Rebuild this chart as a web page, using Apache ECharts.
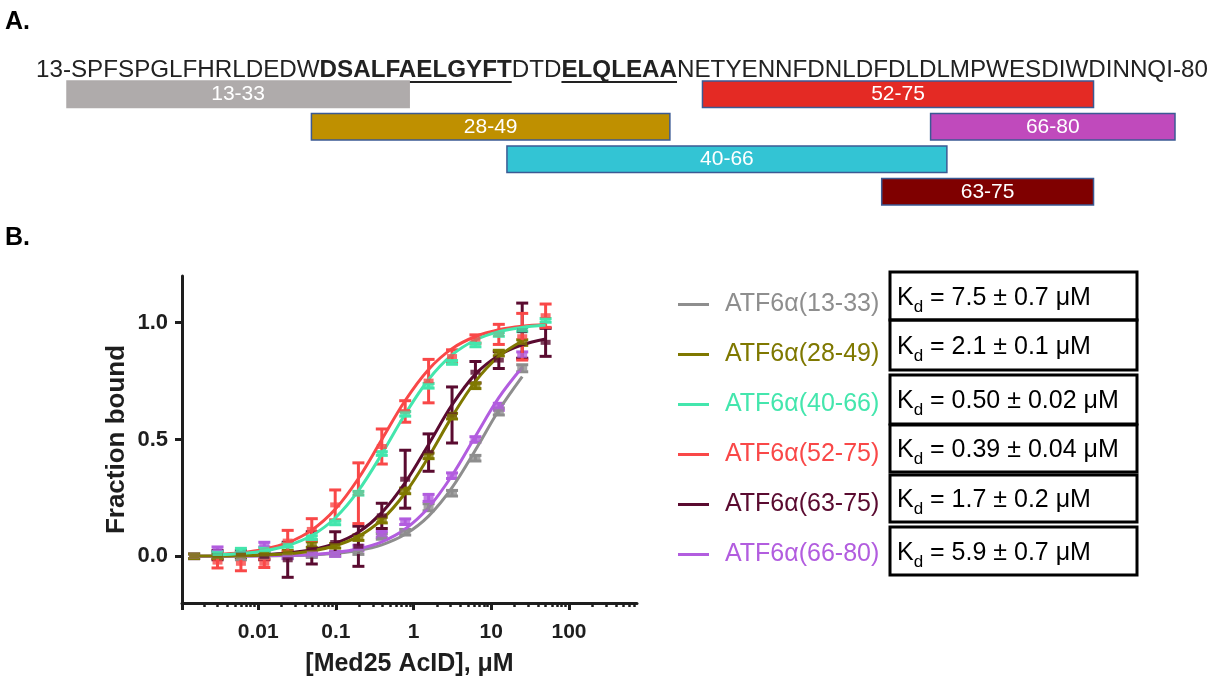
<!DOCTYPE html>
<html><head><meta charset="utf-8">
<script src="https://cdn.jsdelivr.net/npm/echarts@6/dist/echarts.min.js"></script>
<style>html,body{margin:0;padding:0;background:#fff}#c{width:1211px;height:680px}</style>
</head><body><div id="c"></div>
<script>
// ---------------- Panel A data ----------------
const seqPlain1 = '13-SPFSPGLFHRLDEDW';
const seqBold1 = 'DSALFAELGYFT';
const seqPlain2 = 'DTD';
const seqBold2 = 'ELQLEAA';
const seqPlain3 = 'NETYENNFDNLDFDLDLMPWESDIWDINNQI-80';
const fragLabels = ['13-33', '28-49', '40-66', '52-75', '63-75', '66-80'];
const fragStart = [13, 28, 40, 52, 63, 66];
const fragEnd = [33, 49, 66, 75, 75, 80];
const fragRow = [0, 1, 2, 0, 3, 1];

// ---------------- Panel B data ----------------
const seriesNames = ['ATF6α(13-33)', 'ATF6α(28-49)', 'ATF6α(40-66)', 'ATF6α(52-75)', 'ATF6α(63-75)', 'ATF6α(66-80)'];
const kdLabels = ['7.5 ± 0.7 μM', '2.1 ± 0.1 μM', '0.50 ± 0.02 μM', '0.39 ± 0.04 μM', '1.7 ± 0.2 μM', '5.9 ± 0.7 μM'];
const xTickLabels = [0.01, 0.1, 1, 10, 100];
const yTickLabels = [0.0, 0.5, 1.0];

// concentrations (µM)
const concA = [0.0015, 0.003, 0.006, 0.012, 0.024, 0.049, 0.098, 0.195, 0.39, 0.78, 1.56, 3.125, 6.25, 12.5, 25];
const concB = [0.003, 0.006, 0.012, 0.024, 0.049, 0.098, 0.195, 0.39, 0.78, 1.56, 3.125, 6.25, 12.5, 25, 50];

// measured points (mean, sd)
const mean13_33 = [0.0, 0.0, -0.005, -0.003, 0.0, 0.005, 0.01, 0.02, 0.085, 0.103, 0.21, 0.27, 0.42, 0.62, 0.805];
const err13_33  = [0.01, 0.01, 0.01, 0.01, 0.01, 0.01, 0.01, 0.012, 0.012, 0.012, 0.015, 0.012, 0.012, 0.015, 0.015];
const mean28_49 = [0.0, 0.0, 0.005, 0.01, 0.015, 0.05, 0.045, 0.08, 0.155, 0.28, 0.43, 0.6, 0.73, 0.87, 0.915];
const err28_49  = [0.01, 0.01, 0.01, 0.01, 0.01, 0.012, 0.01, 0.012, 0.012, 0.012, 0.012, 0.012, 0.012, 0.012, 0.012];
const mean40_66 = [0.012, 0.026, 0.029, 0.047, 0.08, 0.143, 0.27, 0.44, 0.61, 0.73, 0.83, 0.905, 0.95, 0.97, 1.01];
const err40_66  = [0.008, 0.008, 0.008, 0.008, 0.008, 0.008, 0.008, 0.008, 0.01, 0.01, 0.008, 0.008, 0.008, 0.008, 0.008];
const mean52_75 = [-0.025, -0.03, -0.03, 0.065, 0.115, 0.22, 0.27, 0.47, 0.62, 0.75, 0.855, 0.93, 0.95, 0.94, 1.03];
const err52_75  = [0.025, 0.032, 0.018, 0.046, 0.046, 0.064, 0.13, 0.075, 0.046, 0.093, 0.029, 0.018, 0.043, 0.1, 0.05];
const mean63_75 = [0.005, 0.01, 0.0, -0.015, 0.036, 0.059, 0.043, 0.173, 0.33, 0.444, 0.605, 0.788, 0.84, 0.966, 0.916];
const err63_75  = [0.02, 0.015, 0.015, 0.075, 0.069, 0.046, 0.086, 0.054, 0.124, 0.08, 0.12, 0.046, 0.036, 0.118, 0.06];
const mean66_80 = [0.0, 0.03, 0.01, 0.05, 0.0, 0.01, 0.01, 0.035, 0.094, 0.148, 0.25, 0.345, 0.5, 0.64, 0.86];
const err66_80  = [0.01, 0.01, 0.01, 0.01, 0.01, 0.01, 0.01, 0.012, 0.012, 0.012, 0.015, 0.012, 0.012, 0.015, 0.015];

// fitted curves
const fit13_33 = [0.0, 0.0, 0.001, 0.002, 0.003, 0.006, 0.013, 0.025, 0.049, 0.094, 0.172, 0.294, 0.455, 0.625, 0.769];
const fit28_49 = [0.001, 0.001, 0.003, 0.006, 0.011, 0.023, 0.045, 0.085, 0.157, 0.271, 0.426, 0.598, 0.749, 0.856, 0.922];
const fit40_66 = [0.006, 0.012, 0.023, 0.046, 0.089, 0.164, 0.281, 0.438, 0.609, 0.757, 0.862, 0.926, 0.962, 0.980, 0.990];
const fit52_75 = [0.008, 0.015, 0.030, 0.058, 0.112, 0.201, 0.333, 0.5, 0.667, 0.8, 0.889, 0.941, 0.970, 0.985, 0.992];
const fit63_75 = [0.002, 0.004, 0.007, 0.014, 0.028, 0.055, 0.103, 0.187, 0.315, 0.479, 0.648, 0.78, 0.86, 0.905, 0.93];
const fit66_80 = [0.0, 0.001, 0.001, 0.002, 0.004, 0.008, 0.016, 0.032, 0.062, 0.117, 0.209, 0.346, 0.514, 0.679, 0.809];

// ---------------- styles / layout ----------------
const FONT = '"Liberation Sans", Arial, Helvetica, sans-serif';
const NARROW = '"Liberation Sans Narrow", "Arial Narrow", "Liberation Sans", Arial, sans-serif';
const fragColors = ['#afabab', '#bf9000', '#33c4d4', '#e42a24', '#7f0000', '#c04abc'];
const seriesColors = ['#8e8e8e', '#7f7800', '#44e6ad', '#f94848', '#5a0b30', '#b25ddf'];
const seriesSets = [
  {conc: concA, mean: mean13_33, err: err13_33, fit: fit13_33},
  {conc: concA, mean: mean28_49, err: err28_49, fit: fit28_49},
  {conc: concB, mean: mean40_66, err: err40_66, fit: fit40_66},
  {conc: concB, mean: mean52_75, err: err52_75, fit: fit52_75},
  {conc: concB, mean: mean63_75, err: err63_75, fit: fit63_75},
  {conc: concA, mean: mean66_80, err: err66_80, fit: fit66_80}
];
const drawOrder = [0, 5, 4, 1, 3, 2];
const X_MIN = -2.98, X_MAX = 2.875;
const lx = c => Math.log10(c);

const majorTicks = [X_MIN].concat(xTickLabels.map(lx));
const minorTicks = [];
for (let n = -3; n <= 2; n++) for (let k = 2; k <= 9; k++) {
  const v = n + Math.log10(k);
  if (v > X_MIN && v < X_MAX) minorTicks.push(v);
}

function errRender(params, api) {
  const x = api.value(0), y = api.value(1), e = api.value(2);
  const p0 = api.coord([x, y - e]), p1 = api.coord([x, y + e]);
  const hw = 6;
  const st = {stroke: api.visual('color'), lineWidth: 3};
  return {type: 'group', children: [
    {type: 'line', shape: {x1: p0[0], y1: p0[1], x2: p1[0], y2: p1[1]}, style: st},
    {type: 'line', shape: {x1: p0[0] - hw, y1: p0[1], x2: p0[0] + hw, y2: p0[1]}, style: st},
    {type: 'line', shape: {x1: p1[0] - hw, y1: p1[1], x2: p1[0] + hw, y2: p1[1]}, style: st}
  ]};
}

const series = [];
drawOrder.forEach(i => {
  const s = seriesSets[i];
  series.push({type: 'custom', name: seriesNames[i], xAxisIndex: 0, yAxisIndex: 0, z: 2, clip: false,
    itemStyle: {color: seriesColors[i]}, renderItem: errRender,
    data: s.conc.map((c, j) => [lx(c), s.mean[j], s.err[j]])});
});
drawOrder.forEach(i => {
  const s = seriesSets[i];
  series.push({type: 'line', name: seriesNames[i], xAxisIndex: 0, yAxisIndex: 0, z: 3,
    smooth: 0.35, showSymbol: false, color: seriesColors[i],
    lineStyle: {width: 3, color: seriesColors[i]},
    data: s.conc.map((c, j) => [lx(c), s.fit[j]])});
});
drawOrder.forEach(i => {
  const s = seriesSets[i];
  series.push({type: 'scatter', name: seriesNames[i], xAxisIndex: 0, yAxisIndex: 0, z: 4,
    symbol: 'rect', symbolSize: [10, 5], itemStyle: {color: seriesColors[i]},
    data: s.conc.map((c, j) => [lx(c), s.mean[j]])});
});
// panel A fragments
series.push({type: 'custom', xAxisIndex: 2, yAxisIndex: 1, clip: false,
  encode: {x: [0, 1], y: 2},
  data: fragStart.map((st, i) => [st, fragEnd[i], fragRow[i]]),
  renderItem: (params, api) => {
    const i = params.dataIndex;
    const r = api.value(2);
    const a = api.coord([api.value(0), r]);
    const b = api.coord([api.value(1) + 1, r]);
    const h = api.size([0, 1])[1] * 0.82;
    return {type: 'rect', shape: {x: a[0], y: a[1] - h / 2, width: b[0] - a[0], height: h},
      style: {fill: fragColors[i], stroke: i === 0 ? fragColors[i] : '#3b5a94', lineWidth: 1.5},
      textContent: {style: {text: fragLabels[i], fill: '#fff', font: '21px ' + NARROW}},
      textConfig: {position: 'inside'}};
  }});

// text measuring for underline + Kd layout
const ctx = document.createElement('canvas').getContext('2d');
function tw(t, f) { ctx.font = f; return ctx.measureText(t).width; }
const SEQ_N = '24.2px ' + FONT, SEQ_B = 'bold 24.2px ' + FONT;
const SEQ_X = 36, SEQ_Y = 70;
const u0 = SEQ_X + tw(seqPlain1, SEQ_N);
const u1 = u0 + tw(seqBold1, SEQ_B);
const u2 = u1 + tw(seqPlain2, SEQ_N);
const u3 = u2 + tw(seqBold2, SEQ_B);

const graphic = [
  {type: 'text', x: 5, y: 22, style: {text: 'A.', font: 'bold 25px ' + FONT, fill: '#000', verticalAlign: 'middle'}},
  {type: 'text', x: 5, y: 238, style: {text: 'B.', font: 'bold 25px ' + FONT, fill: '#000', verticalAlign: 'middle'}},
  {type: 'text', x: SEQ_X, y: SEQ_Y, style: {
    text: '{n|' + seqPlain1 + '}{b|' + seqBold1 + '}{n|' + seqPlain2 + '}{b|' + seqBold2 + '}{n|' + seqPlain3 + '}',
    verticalAlign: 'middle',
    rich: {n: {font: SEQ_N, fill: '#222'}, b: {font: SEQ_B, fill: '#222'}}}},
  {type: 'line', shape: {x1: u0, y1: 82, x2: u1, y2: 82}, style: {stroke: '#222', lineWidth: 2}},
  {type: 'line', shape: {x1: u2, y1: 82, x2: u3, y2: 82}, style: {stroke: '#222', lineWidth: 2}}
];
const kdTops = [272, 320, 375, 425, 475, 527];
const kdHeights = [48, 50, 49, 47, 47, 48];
const KD_F = '25px ' + FONT, KD_S = '17px ' + FONT;
kdLabels.forEach((t, i) => {
  const cy = kdTops[i] + kdHeights[i] / 2 + 2;
  graphic.push({type: 'rect', shape: {x: 890, y: kdTops[i], width: 247, height: kdHeights[i]},
    style: {fill: 'none', stroke: '#000', lineWidth: 3}});
  const kx = 897, wk = tw('K', KD_F), wd = tw('d', KD_S);
  graphic.push({type: 'text', x: kx, y: cy, style: {text: 'K', font: KD_F, fill: '#000', verticalAlign: 'middle'}});
  graphic.push({type: 'text', x: kx + wk, y: cy + 9, style: {text: 'd', font: KD_S, fill: '#000', verticalAlign: 'middle'}});
  graphic.push({type: 'text', x: kx + wk + wd, y: cy, style: {text: ' = ' + t, font: KD_F, fill: '#000', verticalAlign: 'middle'}});
});

const axisCol = '#1e1e1e';
const option = {
  animation: false,
  backgroundColor: '#fff',
  grid: [
    {left: 182, top: 276, width: 455, height: 327},
    {left: 67, top: 78, width: 1108, height: 130}
  ],
  xAxis: [
    {type: 'value', gridIndex: 0, min: X_MIN, max: X_MAX, position: 'bottom',
      axisLine: {show: true, onZero: false, lineStyle: {color: axisCol, width: 3}},
      axisTick: {show: true, customValues: majorTicks, length: 7, lineStyle: {color: axisCol, width: 3}},
      axisLabel: {customValues: xTickLabels.map(lx), margin: 19, color: axisCol, fontSize: 21, fontWeight: 'bold', fontFamily: FONT,
        formatter: v => String(xTickLabels[Math.round(v) + 2])},
      splitLine: {show: false},
      name: '[Med25 AcID], μM', nameLocation: 'middle', nameGap: 49,
      nameTextStyle: {fontSize: 25, fontWeight: 'bold', fontFamily: FONT, color: axisCol}},
    {type: 'value', gridIndex: 0, min: X_MIN, max: X_MAX, position: 'bottom',
      axisLine: {show: false, onZero: false},
      axisTick: {show: true, customValues: minorTicks, length: 4, lineStyle: {color: axisCol, width: 2.5}},
      axisLabel: {show: false}, splitLine: {show: false}},
    {type: 'value', gridIndex: 1, min: 13, max: 81, show: false}
  ],
  yAxis: [
    {type: 'value', gridIndex: 0, min: -0.2, max: 1.2,
      axisLine: {show: true, onZero: false, lineStyle: {color: axisCol, width: 3}},
      axisTick: {show: true, customValues: yTickLabels, length: 7, lineStyle: {color: axisCol, width: 3}},
      axisLabel: {customValues: yTickLabels, margin: 14, color: axisCol, fontSize: 22, fontWeight: 'bold', fontFamily: FONT,
        formatter: v => v.toFixed(1)},
      splitLine: {show: false},
      name: 'Fraction bound', nameLocation: 'middle', nameGap: 52,
      nameTextStyle: {fontSize: 26, fontWeight: 'bold', fontFamily: FONT, color: axisCol}},
    {type: 'category', gridIndex: 1, data: ['r0', 'r1', 'r2', 'r3'], inverse: true, show: false}
  ],
  legend: {orient: 'vertical', left: 673, top: 287, itemWidth: 31, itemHeight: 3, itemGap: 25, icon: 'rect',
    selectedMode: false,
    textStyle: {fontSize: 25, lineHeight: 25, fontFamily: FONT, padding: [0, 0, 0, 11]},
    data: seriesNames.map((n, i) => ({name: n, textStyle: {color: seriesColors[i]}}))},
  graphic: graphic,
  series: series
};
const chart = echarts.init(document.getElementById('c'), null, {renderer: 'canvas'});
chart.setOption(option);
</script></body></html>
